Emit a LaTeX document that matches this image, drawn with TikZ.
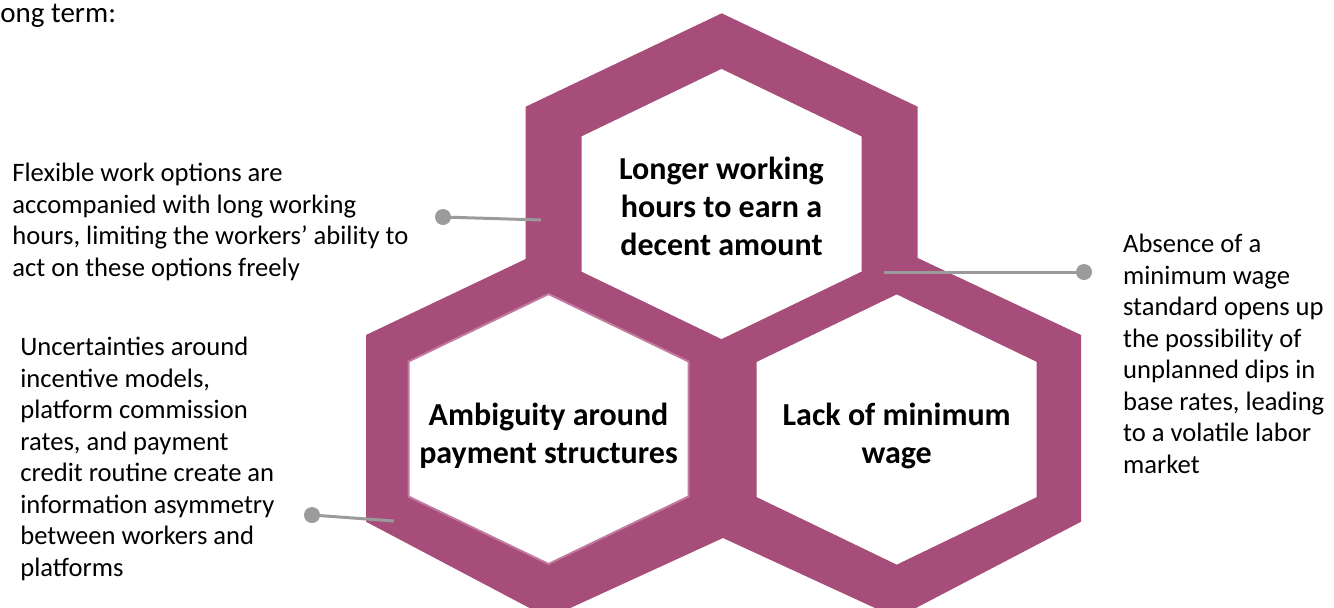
\documentclass[tikz,border=0pt]{standalone}
\usepackage{fontspec}
\setmainfont{Carlito}
\usetikzlibrary{positioning}
\definecolor{hexpurple}{HTML}{A64D79}
\definecolor{hexrim}{HTML}{C27BA0}
\definecolor{leadgray}{HTML}{9B9B9B}
% white cell of the honeycomb: #1 style, #2/#3 centre (px)
\newcommand{\hexhole}[3]{%
	\path[#1] (#2,#3-135) -- ++(140,67.5) -- ++(0,135) -- ++(-140,67.5) -- ++(-140,-67.5) -- ++(0,-135) -- cycle;
}
\tikzset{
	cell/.style={anchor=north, align=center, inner sep=0pt, font=\fontsize{16}{19}\selectfont\bfseries},
	note/.style={anchor=north west, align=left, inner sep=0pt, font=\fontsize{13.3}{15.75}\selectfont},
	dot/.style={circle, fill=leadgray, inner sep=0pt, minimum size=8pt},
	lead/.style={draw=leadgray, line width=1.5pt},
}
\begin{document}
\begin{tikzpicture}[x=0.5pt, y=-0.5pt]
	\useasboundingbox (0,0) rectangle (1334,607);
	\clip (0,0) rectangle (1334,607);

	%--- purple frame of the three cells ---
	\fill[hexpurple] (721.7,13.3) -- (917.7,106.7) -- (917.7,258) -- (1081,335) -- (1081,521.7)
		-- (896.7,618) -- (723,538) -- (548.5,618) -- (366,521.7) -- (366,335)
		-- (525.7,259) -- (525.7,106.7) -- cycle;
	\hexhole{fill=white}{721.5}{204}
	\hexhole{fill=white, draw=hexrim, line width=1pt}{548.5}{429}
	\hexhole{fill=white}{896.7}{429.5}

	%--- cell labels ---
	\node[cell] (hours) at (721.5,157) {Longer working\\hours to earn a\\decent amount};
	\node[cell] (ambig) at (548.5,403) {Ambiguity around\\payment structures};
	\node[cell] (minwage) at (896.7,403) {Lack of minimum\\wage};

	%--- heading (cut at the left edge) ---
	\node[anchor=base west, inner sep=0pt, font=\fontsize{14.5}{17}\selectfont] (head) at (0,22) {ong term:};

	%--- side notes ---
	\node[note] (flexnote) at (12,163) {Flexible work options are\\accompanied with long working\\hours, limiting the workers’ ability to\\act on these options freely};
	\node[note] (paynote) at (20,337) {Uncertainties around\\incentive models,\\platform commission\\rates, and payment\\credit routine create an\\information asymmetry\\between workers and\\platforms};
	\node[note] (wagenote) at (1122.7,234) {Absence of a\\minimum wage\\standard opens up\\the possibility of\\unplanned dips in\\base rates, leading\\to a volatile labor\\market};

	%--- leader lines ---
	\node[dot] (flexdot) at (443,217) {};
	\coordinate (flextip) at (541,220);
	\draw[lead] (flexdot.center) -- (flextip);
	\node[dot] (paydot) at (312,515) {};
	\coordinate (paytip) at (394,521);
	\draw[lead] (paydot.center) -- (paytip);
	\node[dot] (wagedot) at (1084,272) {};
	\coordinate (wagetip) at (884,272);
	\draw[lead] (wagetip) -- (wagedot.center);
\end{tikzpicture}
\end{document}
